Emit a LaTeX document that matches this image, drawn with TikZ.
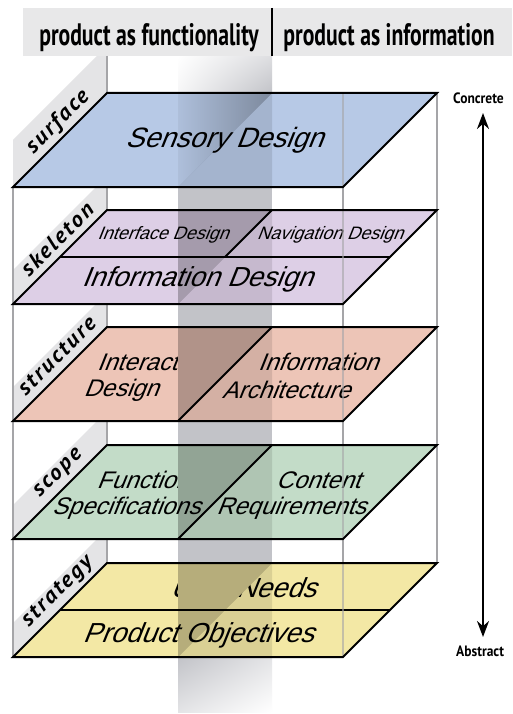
\documentclass[tikz,border=0pt]{standalone}
\usepackage{fontspec}
\setmainfont{Liberation Sans}
\newfontfamily\planefont[FakeSlant=0.4]{Liberation Sans}
\newfontfamily\hdfont[FakeStretch=0.70]{PT Sans}
\newfontfamily\tabfont[LetterSpace=10,FakeStretch=1.05]{PT Sans}
\newfontfamily\arfont[FakeStretch=0.9]{PT Sans}
\usetikzlibrary{arrows.meta,shadings}
\definecolor{surfC}{RGB}{183,201,230}
\definecolor{skelC}{RGB}{221,207,230}
\definecolor{structC}{RGB}{237,197,183}
\definecolor{scopeC}{RGB}{195,220,200}
\definecolor{stratC}{RGB}{243,232,165}
\definecolor{bandC}{RGB}{194,195,200}
\definecolor{hdrC}{RGB}{232,232,233}
\definecolor{tabC}{RGB}{228,228,230}
\definecolor{frameC}{RGB}{165,165,168}
\newcommand\mylayer[2]{%
  \pgfmathsetmacro\lb{#1+94}
  \fill[#2] (13,\lb) -- (343,\lb) -- (437,#1) -- (107,#1) -- cycle;
  \fill[black,opacity=.25] (178,#1) -- (272,#1) -- (178,\lb) -- cycle;
  \fill[black,opacity=.1] (272,#1) -- (272,\lb) -- (178,\lb) -- cycle;
}
\newcommand\myoutline[1]{%
  \pgfmathsetmacro\lb{#1+94}
  \draw[frameC,line width=2pt,opacity=.6] (343,#1) -- (343,\lb);
  \draw[planeline] (13,\lb) -- (343,\lb) -- (437,#1) -- (107,#1) -- cycle;
}
\newcommand\mytab[2]{%
  \pgfmathsetmacro\lb{#1+94}
  \pgfmathsetmacro\mytt{#1-#2}
  \pgfmathsetmacro\mybb{\lb-#2}
  \fill[tabC] (13,\lb) -- (107,#1) -- (107,\mytt) -- (13,\mybb) -- cycle;
}
\newcommand\mypatch[4]{% top, color, strip y1, strip y2
  \pgfmathsetmacro\lb{#1+94}
  \begin{scope}
    \clip (178,#1) -- (272,#1) -- (178,\lb) -- cycle;
    \fill[#2] (178,#3) rectangle (272,#4);
    \fill[black,opacity=.25] (178,#3) rectangle (272,#4);
  \end{scope}
}
\begin{document}
\begin{tikzpicture}[x=1pt,y=-1pt,
  planeline/.style={line width=2pt,line join=miter},
  frameline/.style={draw=frameC,line width=2pt},
  ptext/.style={font=\planefont\fontsize{#1}{#1}\selectfont,inner sep=0pt},
  ptext/.default=27,
  tablabel/.style={font=\tabfont\bfseries\itshape\fontsize{22}{22}\selectfont,rotate=45,inner sep=0pt,text=black},
  hdr/.style={font=\hdfont\bfseries\fontsize{31}{31}\selectfont,inner sep=0pt,anchor=base},
  axislabel/.style={font=\arfont\bfseries\fontsize{15}{15}\selectfont,inner sep=0pt,anchor=west}]
\useasboundingbox (0,0) rectangle (512,714);
\fill[white] (0,0) rectangle (512,714);
% vertical column
\fill[bandC] (178,93) rectangle (272,657);
\shade[upper left=white,upper right=bandC!55!white,lower left=bandC!15!white,lower right=bandC] (178,56) rectangle (272,93);
\shade[upper left=bandC,upper right=bandC!45!white,lower left=bandC!45!white,lower right=white] (178,657) rectangle (272,712);
% tabs
\mytab{93}{47}
\mytab{210}{34}
\mytab{327}{34}
\mytab{445}{34}
\mytab{563}{34}
% header
\fill[hdrC] (23,8) rectangle (512,56);
\node[hdr] (pf) at (149,46) {product as functionality};
\node[hdr] (pi) at (389,46) {product as information};
\draw[line width=1.5pt] (272,8) -- (272,56);
% frame lines
\draw[frameline] (13,187) -- (13,657);
\draw[frameline] (107,56) -- (107,563);
\draw[frameline] (437,93) -- (437,563);
\draw[frameline] (343,187) -- (343,657);
% surface
\fill[surfC] (13,187) -- (343,187) -- (437,93) -- (107,93) -- cycle;
\shade[left color=surfC!95!black,right color=surfC!68!black] (178,93) -- (272,93) -- (178,187) -- cycle;
\fill[black,opacity=.1] (272,93) -- (272,187) -- (178,187) -- cycle;
\node[ptext=28] (sensory) at (224,140) {Sensory Design};
\myoutline{93}
% skeleton
\mylayer{210}{skelC}
\node[ptext=18] (iface) at (163,235) {Interface Design};
\node[ptext=18] (nav) at (330,235) {Navigation Design};
\node[ptext=27.5] (infod) at (197,279) {Information Design};
\draw[planeline] (60,257) -- (390,257);
\draw[planeline] (272,210) -- (225,257);
\myoutline{210}
% structure
\mylayer{327}{structC}
\node[ptext=24] (inter1) at (153,362) {Interaction};
\node[ptext=24] (inter2) at (121,390) {Design};
\node[ptext=24] (ia1) at (318,362) {Information};
\node[ptext=24] (ia2) at (286,390) {Architecture};
\mypatch{327}{structC}{348}{375}
\draw[planeline] (272,327) -- (178,421);
\myoutline{327}
% scope
\mylayer{445}{scopeC}
\node[ptext=24] (fs1) at (152,480) {Functional};
\node[ptext=24] (fs2) at (126,508) {Specifications};
\node[ptext=24] (cr1) at (318,480) {Content};
\node[ptext=24] (cr2) at (291,508) {Requirements};
\mypatch{445}{scopeC}{466}{494}
\draw[planeline] (272,445) -- (178,539);
\myoutline{445}
% strategy
\mylayer{563}{stratC}
\node[ptext=27.5] (un) at (243,588) {User Needs};
\node[ptext=27.5] (po) at (198,635) {Product Objectives};
\mypatch{563}{stratC}{572}{603}
\draw[planeline] (60,610) -- (390,610);
\myoutline{563}
% tab labels
\node[tablabel] (lsurf) at (58,122) {surface};
\node[tablabel] (lskel) at (57,239) {skeleton};
\node[tablabel] (lstruc) at (57,356) {structure};
\node[tablabel] (lscope) at (59,474) {scope};
\node[tablabel] (lstrat) at (58,592) {strategy};
% axis
\node[axislabel] (conc) at (453,98) {Concrete};
\node[axislabel] (abst) at (456,651) {Abstract};
\coordinate (atop) at (483,113);
\coordinate (abot) at (483,637);
\draw[line width=2pt,{Stealth[length=16pt,width=12pt]}-{Stealth[length=16pt,width=12pt]}] (atop) -- (abot);
\end{tikzpicture}
\end{document}
